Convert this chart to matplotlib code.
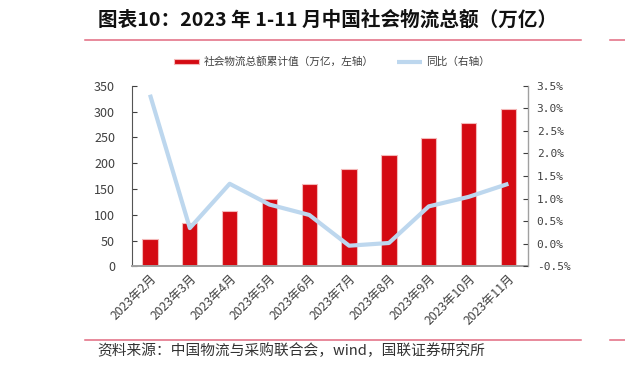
import matplotlib
matplotlib.use("Agg")
import matplotlib.pyplot as plt
from matplotlib.lines import Line2D
from matplotlib.ticker import FuncFormatter

plt.rcParams['font.family'] = ['Noto Sans CJK SC', 'DejaVu Sans']

# 数据
meses = ['2023年2月', '2023年3月', '2023年4月', '2023年5月', '2023年6月',
         '2023年7月', '2023年8月', '2023年9月', '2023年10月', '2023年11月']
total = [53, 83.6, 108, 130, 159.7, 189.3, 215, 248.7, 277.8, 304.3]   # 万亿
tongbi = [3.3, 0.35, 1.33, 0.87, 0.64, -0.04, 0.02, 0.83, 1.04, 1.33]  # %

rojo = '#D40A12'
azul = '#BDD7EE'
linea = '#E26A80'
gris = '#404040'

fig = plt.figure(figsize=(6.25, 3.69), dpi=100)
ax = fig.add_axes([0.2107, 0.2778, 0.6346, 0.49])
ax2 = ax.twinx()

x = list(range(len(meses)))
barras = ax.bar(x, total, width=0.385, color=rojo, edgecolor='#F4B8B8',
                linewidth=0.8, label='社会物流总额累计值（万亿，左轴）')
l, = ax2.plot(x, tongbi, color=azul, linewidth=3, solid_capstyle='butt',
              label='同比（右轴）')

ax.set_xlim(-0.46, 9.5)
ax.set_ylim(0, 350)
ax.set_yticks(range(0, 351, 50))
ax2.set_ylim(-0.5, 3.5)
ax2.set_yticks([-0.5, 0, 0.5, 1, 1.5, 2, 2.5, 3, 3.5])
ax2.yaxis.set_major_formatter(FuncFormatter(lambda v, p: f'{v:.1f}%'))

ax.set_xticks(x)
ax.set_xticklabels(meses, rotation=45, ha='right', rotation_mode='anchor',
                   fontsize=8.8, color=gris)
ax.tick_params(axis='x', length=0, pad=4)
ax.tick_params(axis='y', direction='in', length=3.5, labelsize=9,
               colors=gris, pad=12)
ax2.tick_params(axis='y', direction='in', length=3.5, labelsize=8,
                colors=gris, pad=6)
for lab in ax2.get_yticklabels():
    lab.set_family('DejaVu Sans Mono')

for a in (ax, ax2):
    a.spines['top'].set_visible(False)
ax.spines['left'].set_color('#555555')
ax.spines['bottom'].set_color('#A0A0A0')
ax.spines['bottom'].set_linewidth(1.4)
ax2.spines['right'].set_color('#A0A0A0')
ax2.spines['left'].set_visible(False)
ax2.spines['bottom'].set_visible(False)

fig.legend(handles=[barras, l], loc='center', bbox_to_anchor=(0.531, 0.833),
           ncol=2, frameon=False, fontsize=7.7, handlelength=2.4,
           handleheight=0.35, handletextpad=0.35, columnspacing=2.2,
           labelcolor=gris)

# título y fuente
fig.text(98.3 / 625, 1 - 20 / 369, '图表10：2023 年 1-11 月中国社会物流总额（万亿）',
         fontsize=14.1, fontweight='bold', color='#111111', va='center')
fig.text(97.6 / 625, 1 - 351 / 369,
         '资料来源：中国物流与采购联合会，wind，国联证券研究所',
         fontsize=10.6, color='#333333', va='center')
for yy in (40, 340):
    fig.add_artist(Line2D([85 / 625, 580.7 / 625], [1 - yy / 369] * 2,
                          color=linea, linewidth=1.1))
    fig.add_artist(Line2D([610 / 625, 1.0], [1 - yy / 369] * 2,
                          color=linea, linewidth=1.1))

plt.savefig('out.png', dpi=100)
